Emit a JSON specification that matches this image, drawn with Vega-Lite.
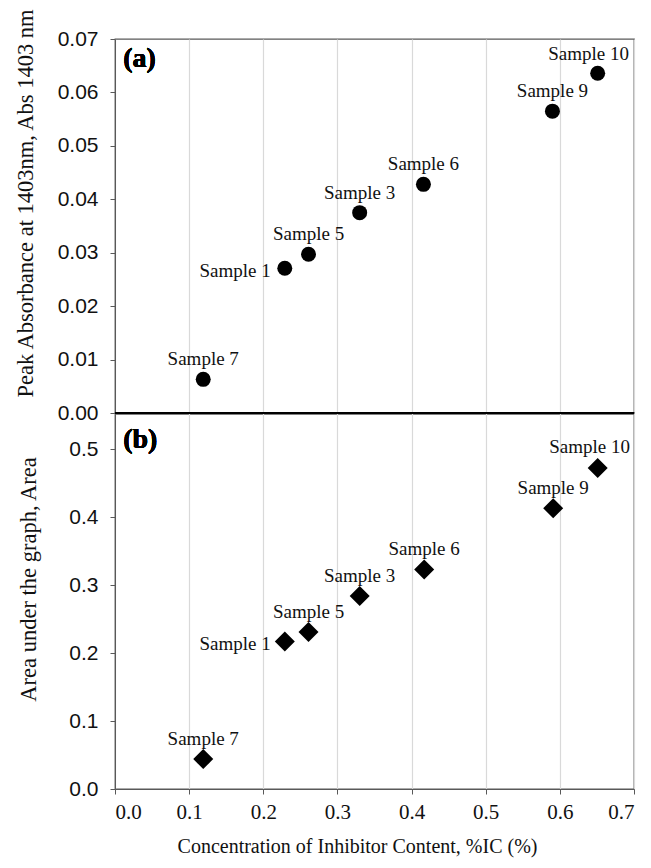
{
  "$schema": "https://vega.github.io/schema/vega-lite/v6.json",
  "background": "white",
  "padding": {"left": 13, "top": 7, "right": 15, "bottom": 5},
  "spacing": 0,
  "bounds": "flush",
  "config": {
    "view": {"stroke": "#595959", "strokeWidth": 1.3},
    "font": "Liberation Serif",
    "axis": {
      "labelFont": "Liberation Sans",
      "labelFontSize": 21,
      "labelColor": "#111111",
      "titleFont": "Liberation Serif",
      "titleFontSize": 20,
      "titleFontWeight": "normal",
      "titleColor": "#111111",
      "tickColor": "#595959",
      "domainColor": "#595959",
      "tickSize": 5,
      "gridColor": "#d9d9d9",
      "gridWidth": 1.2
    }
  },
  "datasets": {
    "abs": [
      {"name": "Sample 7", "ic": 0.119, "abs": 0.0063},
      {"name": "Sample 1", "ic": 0.229, "abs": 0.0271},
      {"name": "Sample 5", "ic": 0.261, "abs": 0.0297},
      {"name": "Sample 3", "ic": 0.330, "abs": 0.0375},
      {"name": "Sample 6", "ic": 0.416, "abs": 0.0428},
      {"name": "Sample 9", "ic": 0.590, "abs": 0.0565},
      {"name": "Sample 10", "ic": 0.651, "abs": 0.0636}
    ],
    "area": [
      {"name": "Sample 7", "ic": 0.119, "area": 0.044},
      {"name": "Sample 1", "ic": 0.229, "area": 0.217},
      {"name": "Sample 5", "ic": 0.261, "area": 0.231},
      {"name": "Sample 3", "ic": 0.330, "area": 0.284},
      {"name": "Sample 6", "ic": 0.417, "area": 0.323},
      {"name": "Sample 9", "ic": 0.591, "area": 0.413},
      {"name": "Sample 10", "ic": 0.651, "area": 0.472}
    ]
  },
  "vconcat": [
    {
      "width": 519,
      "height": 374,
      "data": {"name": "abs"},
      "encoding": {
        "x": {
          "field": "ic",
          "type": "quantitative",
          "scale": {"domain": [0, 0.7], "nice": false, "zero": false},
          "axis": {
            "values": [0, 0.1, 0.2, 0.3, 0.4, 0.5, 0.6, 0.7],
            "grid": true,
            "labels": false,
            "ticks": false,
            "title": null,
            "domainColor": "#000000",
            "domainWidth": 2.2
          }
        },
        "y": {
          "field": "abs",
          "type": "quantitative",
          "scale": {"domain": [0, 0.07], "nice": false, "zero": false},
          "axis": {
            "values": [0, 0.01, 0.02, 0.03, 0.04, 0.05, 0.06, 0.07],
            "format": ".2f",
            "grid": false,
            "labelPadding": 12,
            "title": "Peak Absorbance at 1403nm, Abs 1403 nm",
            "titleFontSize": 22.5,
            "titleAngle": -90,
            "titleAlign": "center",
            "titleBaseline": "middle",
            "titleX": -90,
            "titleY": 164
          }
        }
      },
      "layer": [
        {"mark": {"type": "circle", "size": 225, "color": "#000000", "opacity": 1}},
        {
          "transform": [{"filter": "datum.name !== 'Sample 1' && datum.name !== 'Sample 10'"}],
          "mark": {"type": "text", "fontSize": 19, "font": "Liberation Serif", "dy": -20, "align": "center", "baseline": "middle", "color": "#111111"},
          "encoding": {"text": {"field": "name"}}
        },
        {
          "transform": [{"filter": "datum.name === 'Sample 1'"}],
          "mark": {"type": "text", "fontSize": 19, "font": "Liberation Serif", "dx": -14, "dy": 3, "align": "right", "baseline": "middle", "color": "#111111"},
          "encoding": {"text": {"field": "name"}}
        },
        {
          "transform": [{"filter": "datum.name === 'Sample 10'"}],
          "mark": {"type": "text", "fontSize": 19, "font": "Liberation Serif", "dx": -9, "dy": -19, "align": "center", "baseline": "middle", "color": "#111111"},
          "encoding": {"text": {"field": "name"}}
        },
        {
          "mark": {"type": "text", "text": "(a)", "fontSize": 28, "fontWeight": "bold", "font": "Liberation Serif", "align": "left", "baseline": "middle", "color": "#000000"},
          "encoding": {"x": {"datum": 0.011}, "y": {"datum": 0.0662}}
        }
      ]
    },
    {
      "width": 519,
      "height": 376,
      "data": {"name": "area"},
      "encoding": {
        "x": {
          "field": "ic",
          "type": "quantitative",
          "scale": {"domain": [0, 0.7], "nice": false, "zero": false},
          "axis": {
            "values": [0, 0.1, 0.2, 0.3, 0.4, 0.5, 0.6, 0.7],
            "format": ".1f",
            "grid": true,
            "labelFont": "Liberation Serif",
            "labelPadding": 7,
            "title": "Concentration of Inhibitor Content, %IC (%)",
            "titleX": 242,
            "titleY": 57,
            "titleBaseline": "middle",
            "titleAlign": "center"
          }
        },
        "y": {
          "field": "area",
          "type": "quantitative",
          "scale": {"domain": [0, 0.553], "nice": false, "zero": false},
          "axis": {
            "values": [0, 0.1, 0.2, 0.3, 0.4, 0.5],
            "format": ".1f",
            "grid": false,
            "labelPadding": 12,
            "title": "Area under the graph, Area",
            "titleFontSize": 22.5,
            "titleAngle": -90,
            "titleAlign": "center",
            "titleBaseline": "middle",
            "titleX": -87,
            "titleY": 166
          }
        }
      },
      "layer": [
        {
          "mark": {"type": "rule", "color": "#000000", "strokeWidth": 2.2},
          "encoding": {"x": {"datum": 0}, "x2": {"datum": 0.7}, "y": {"datum": 0.553}}
        },
        {"mark": {"type": "point", "shape": "diamond", "size": 400, "filled": true, "color": "#000000", "opacity": 1}},
        {
          "transform": [{"filter": "datum.name !== 'Sample 1' && datum.name !== 'Sample 10'"}],
          "mark": {"type": "text", "fontSize": 19, "font": "Liberation Serif", "dy": -20, "align": "center", "baseline": "middle", "color": "#111111"},
          "encoding": {"text": {"field": "name"}}
        },
        {
          "transform": [{"filter": "datum.name === 'Sample 1'"}],
          "mark": {"type": "text", "fontSize": 19, "font": "Liberation Serif", "dx": -14, "dy": 3, "align": "right", "baseline": "middle", "color": "#111111"},
          "encoding": {"text": {"field": "name"}}
        },
        {
          "transform": [{"filter": "datum.name === 'Sample 10'"}],
          "mark": {"type": "text", "fontSize": 19, "font": "Liberation Serif", "dx": -8, "dy": -21, "align": "center", "baseline": "middle", "color": "#111111"},
          "encoding": {"text": {"field": "name"}}
        },
        {
          "mark": {"type": "text", "text": "(b)", "fontSize": 28, "fontWeight": "bold", "font": "Liberation Serif", "align": "left", "baseline": "middle", "color": "#000000"},
          "encoding": {"x": {"datum": 0.011}, "y": {"datum": 0.513}}
        }
      ]
    }
  ]
}
